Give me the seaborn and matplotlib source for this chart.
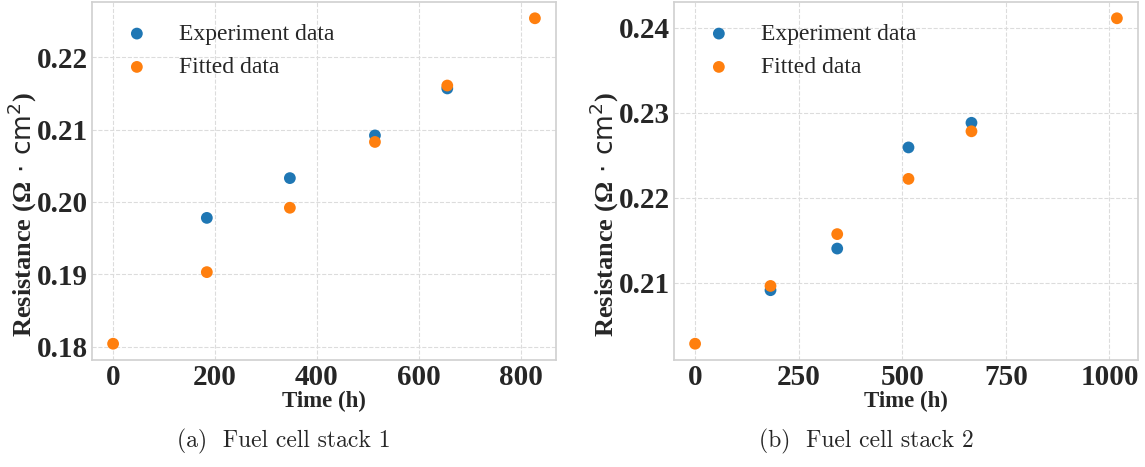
import matplotlib
matplotlib.use("Agg")
import matplotlib.pyplot as plt
import seaborn as sns
import pandas as pd
from matplotlib.ticker import FormatStrFormatter

# ---- data ----
time_fit_1 = [0, 184, 347, 514, 656, 828]
fit_1 = [0.1804, 0.1903, 0.1992, 0.2083, 0.2161, 0.2254]
time_exp_1 = [184, 347, 514, 656]
exp_1 = [0.1978, 0.2033, 0.2092, 0.2157]

time_fit_2 = [0, 182, 343, 515, 667, 1018]
fit_2 = [0.2028, 0.2096, 0.2157, 0.2222, 0.2278, 0.2411]
time_exp_2 = [182, 343, 515, 667]
exp_2 = [0.2091, 0.2140, 0.2259, 0.2288]

captions = ["(a)  Fuel cell stack 1", "(b)  Fuel cell stack 2"]
series_labels = ["Experiment data", "Fitted data"]
xlabel = "Time (h)"
ylabel = "Resistance (Ω" + r"$\,\cdot\,\mathrm{cm}^2$)"

sns.set_theme(style="whitegrid")
plt.rcParams["font.family"] = ["Liberation Serif", "DejaVu Serif"]
plt.rcParams["mathtext.fontset"] = "dejavusans"
plt.rcParams["grid.linestyle"] = "--"
plt.rcParams["grid.color"] = "#dcdcdc"
plt.rcParams["grid.linewidth"] = 0.8
plt.rcParams["axes.edgecolor"] = "#d0d0d0"
plt.rcParams["axes.linewidth"] = 1.2

fig = plt.figure(figsize=(11.45, 4.67), dpi=100)
W, H = 1145, 467
ax_boxes = [(92, 2, 556, 360), (674, 2, 1138, 360)]
cap_x = [284, 866]

blue = "#1f77b4"
orange = "#ff7f0e"

datasets = [
    (time_exp_1, exp_1, time_fit_1, fit_1),
    (time_exp_2, exp_2, time_fit_2, fit_2),
]

for i, (te, ye, tf, yf) in enumerate(datasets):
    l, t, r, b = ax_boxes[i]
    ax = fig.add_axes([l / W, 1 - b / H, (r - l) / W, (b - t) / H])
    df_e = pd.DataFrame({"t": te, "r": ye})
    df_f = pd.DataFrame({"t": tf, "r": yf})
    sns.scatterplot(data=df_e, x="t", y="r", ax=ax, color=blue, s=72,
                    edgecolor="none", label=series_labels[0], zorder=3)
    sns.scatterplot(data=df_f, x="t", y="r", ax=ax, color=orange, s=72,
                    edgecolor="none", label=series_labels[1], zorder=4)
    ax.set_xlabel(xlabel, fontsize=16.5, fontweight="bold", labelpad=0)
    ax.set_ylabel(ylabel, fontsize=19, fontweight="bold")
    ax.yaxis.set_label_coords(-0.115, 0.405)
    ax.yaxis.set_major_formatter(FormatStrFormatter("%.2f"))
    ax.tick_params(axis="both", labelsize=21, pad=3, length=0)
    for lab in ax.get_xticklabels() + ax.get_yticklabels():
        lab.set_fontweight("bold")
    ax.grid(True, linestyle="--", color="#dcdcdc", linewidth=0.8)
    leg = ax.legend(loc="upper left", frameon=False, fontsize=17,
                    labelspacing=0.5, borderaxespad=0.5, handletextpad=0.8)
    fig.text(cap_x[i] / W, 1 - 441 / H, captions[i], fontsize=17,
             family="cmr10", ha="center", va="center")

fig.savefig("out.png", dpi=100)
